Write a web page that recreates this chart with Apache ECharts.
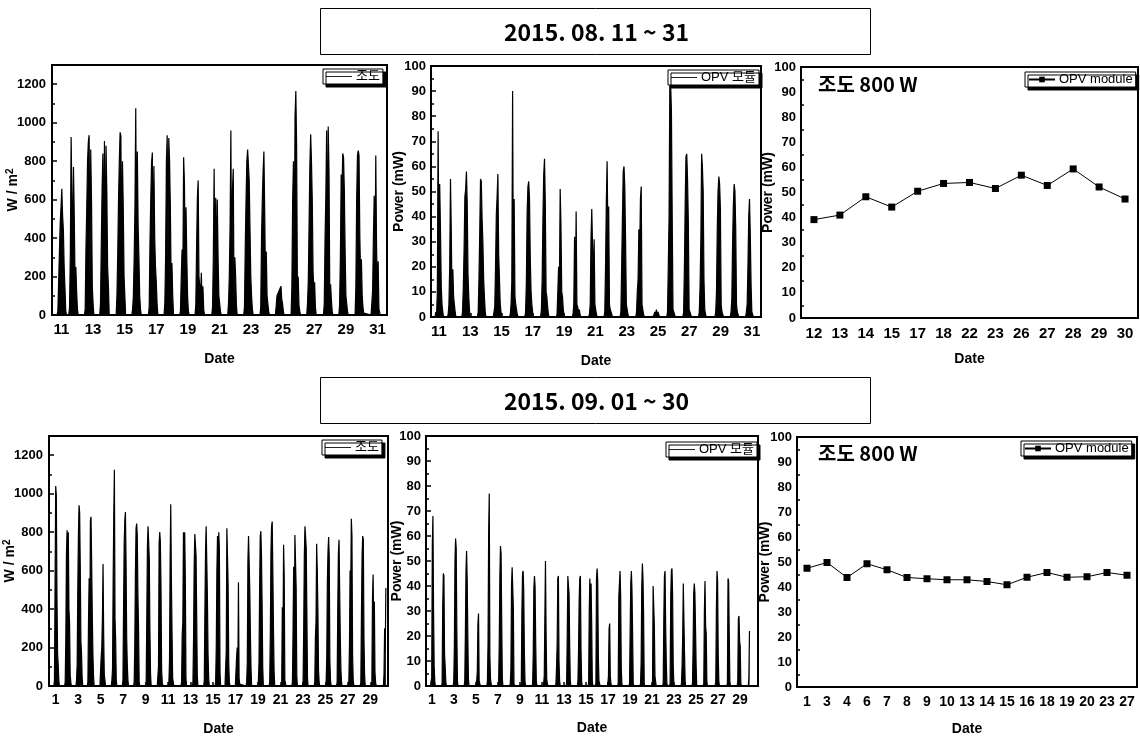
<!DOCTYPE html>
<html>
<head>
<meta charset="utf-8">
<script src="https://cdn.jsdelivr.net/npm/echarts@6/dist/echarts.min.js"></script>
<style>
html, body { margin: 0; padding: 0; background: #fff; }
#main { width: 1140px; height: 744px; }
</style>
</head>
<body>
<div id="main"></div>
<script>
// 2015.08 조도 (W/m2) : noon position of each day on the date axis + hourly profile
const augIrrPos = [11.02, 11.76, 12.75, 13.72, 14.76, 15.75, 16.80, 17.79, 18.78, 19.75, 20.81,
    21.82, 22.83, 23.86, 24.84, 25.83, 26.82, 27.88, 28.85, 29.88, 30.89];
const augIrrDays = [
    [0, 20, 30, 10, 480, 560, 656, 520, 440, 250, 140, 20, 0],
    [0, 40, 320, 925, 920, 320, 770, 510, 160, 250, 120, 30, 0],
    [0, 30, 350, 560, 800, 900, 935, 170, 860, 600, 150, 60, 0],
    [0, 60, 370, 660, 840, 300, 905, 150, 880, 640, 250, 150, 0],
    [0, 100, 320, 600, 800, 950, 930, 250, 800, 560, 200, 100, 0],
    [0, 30, 100, 300, 560, 1075, 330, 850, 470, 300, 100, 30, 0],
    [0, 40, 370, 600, 790, 845, 250, 775, 400, 250, 170, 60, 0],
    [0, 60, 300, 800, 935, 270, 920, 800, 560, 180, 270, 100, 0],
    [0, 20, 200, 340, 200, 820, 690, 300, 560, 300, 100, 20, 0],
    [0, 50, 350, 610, 700, 200, 150, 100, 220, 60, 150, 30, 0],
    [0, 40, 300, 760, 200, 610, 170, 600, 300, 100, 60, 20, 0],
    [0, 60, 200, 460, 960, 100, 650, 760, 100, 300, 200, 50, 0],
    [0, 40, 350, 600, 800, 860, 860, 700, 450, 200, 100, 30, 0],
    [0, 40, 400, 600, 750, 850, 550, 170, 330, 100, 60, 20, 0],
    [0, 10, 100, 110, 100, 130, 120, 150, 80, 60, 20, 0, 0],
    [0, 150, 600, 800, 200, 1030, 1165, 880, 150, 200, 50, 20, 0],
    [0, 60, 180, 480, 780, 940, 800, 600, 230, 130, 170, 40, 0],
    [0, 60, 400, 620, 960, 160, 980, 750, 100, 160, 80, 20, 0],
    [0, 50, 300, 730, 650, 840, 820, 650, 330, 100, 60, 20, 0],
    [0, 150, 600, 830, 855, 830, 410, 200, 290, 100, 40, 10, 0],
    [0, 60, 130, 400, 620, 280, 830, 350, 130, 280, 30, 10, 0]
];

// 2015.08 OPV 모듈 power (mW)
const augPowPos = [11.02, 11.81, 12.73, 13.73, 14.74, 15.78, 16.76, 17.77, 18.77, 19.79, 20.84,
    21.82, 22.85, 23.85, 24.92, 25.83, 26.86, 27.86, 28.91, 29.89, 30.87];
const augPowDays = [
    [0, 2, 1, 10, 74, 25, 53, 35, 12, 5, 2, 0],
    [0, 1, 5, 20, 55, 35, 6, 19, 8, 5, 2, 0],
    [0, 2, 12, 27, 48, 51, 58, 45, 17, 8, 2, 0],
    [0, 2, 15, 34, 55, 54, 39, 30, 15, 8, 2, 0],
    [0, 2, 4, 20, 41, 48, 57, 25, 15, 5, 2, 0],
    [0, 1, 5, 14, 90, 14, 47, 8, 5, 3, 1, 0],
    [0, 2, 14, 42, 52, 54, 47, 23, 10, 5, 2, 0],
    [0, 3, 15, 40, 57, 63, 45, 10, 8, 4, 1, 0],
    [0, 1, 10, 20, 10, 51, 37, 10, 8, 3, 1, 0],
    [0, 1, 5, 32, 5, 42, 5, 4, 2, 3, 1, 0],
    [0, 1, 5, 31, 43, 28, 14, 31, 5, 3, 1, 0],
    [0, 2, 20, 46, 62, 33, 44, 5, 3, 2, 1, 0],
    [0, 2, 20, 40, 58, 60, 52, 30, 5, 3, 1, 0],
    [0, 2, 10, 15, 35, 25, 47, 52, 5, 3, 1, 0],
    [0, 0, 1, 2, 1, 3, 1, 2, 1, 0, 0, 0],
    [0, 2, 20, 40, 95, 93, 82, 40, 3, 2, 1, 0],
    [0, 2, 20, 45, 64, 65, 55, 38, 3, 2, 1, 0],
    [0, 2, 12, 30, 65, 60, 50, 15, 3, 1, 0, 0],
    [0, 2, 10, 35, 50, 56, 53, 43, 5, 2, 1, 0],
    [0, 2, 7, 30, 45, 53, 50, 35, 5, 2, 1, 0],
    [0, 2, 5, 20, 40, 47, 33, 13, 2, 1, 0, 0]
];

// 2015.09 조도 (W/m2)
const sepIrrPos = [1.09, 2.10, 3.11, 4.12, 5.19, 6.20, 7.21, 8.21, 9.25, 10.29, 11.27, 12.40, 13.41,
    14.42, 15.43, 16.29, 17.21, 18.19, 19.23, 20.24, 21.28, 22.26, 23.21, 24.25, 25.26, 26.24,
    27.28, 28.32, 29.30, 30.27];
const sepIrrDays = [
    [0, 30, 40, 1040, 990, 470, 170, 110, 30, 0],
    [0, 20, 240, 680, 810, 70, 800, 400, 330, 60, 20, 0],
    [0, 30, 110, 500, 780, 940, 900, 610, 230, 170, 40, 0],
    [0, 20, 340, 560, 170, 860, 880, 650, 380, 170, 50, 0],
    [0, 10, 150, 200, 350, 635, 270, 60, 30, 0],
    [0, 30, 90, 540, 890, 1125, 350, 240, 30, 0],
    [0, 30, 400, 740, 860, 905, 640, 250, 110, 30, 0],
    [0, 20, 220, 590, 820, 845, 780, 470, 300, 20, 0],
    [0, 20, 360, 730, 830, 820, 660, 290, 60, 0],
    [0, 10, 100, 740, 800, 750, 520, 80, 20, 0],
    [0, 20, 130, 650, 945, 560, 290, 40, 20, 0],
    [0, 20, 270, 330, 800, 200, 800, 560, 40, 0],
    [0, 20, 250, 630, 790, 800, 680, 360, 50, 0],
    [0, 30, 400, 700, 830, 820, 460, 170, 40, 0],
    [0, 20, 200, 600, 780, 260, 800, 710, 70, 0],
    [0, 10, 180, 820, 830, 530, 120, 20, 0],
    [0, 10, 150, 200, 40, 540, 40, 10, 0],
    [0, 20, 120, 650, 780, 790, 500, 260, 90, 0],
    [0, 20, 120, 500, 780, 805, 680, 430, 100, 0],
    [0, 20, 270, 700, 830, 855, 600, 300, 80, 0],
    [0, 20, 410, 200, 735, 580, 30, 20, 0],
    [0, 20, 280, 620, 140, 785, 780, 510, 50, 0],
    [0, 20, 300, 680, 830, 840, 720, 400, 40, 0],
    [0, 20, 250, 340, 740, 600, 400, 80, 20, 0],
    [0, 20, 150, 550, 700, 775, 670, 130, 30, 0],
    [0, 20, 410, 690, 760, 510, 260, 90, 20, 0],
    [0, 20, 210, 600, 500, 870, 780, 160, 30, 0],
    [0, 20, 380, 680, 780, 760, 250, 60, 0],
    [0, 20, 450, 580, 300, 440, 70, 20, 0],
    [0, 60, 300, 180, 510]
];

// 2015.09 OPV 모듈 power (mW)
const sepPowPos = [1.09, 2.09, 3.15, 4.15, 5.18, 6.21, 7.23, 8.29, 9.29, 10.32, 11.32, 12.44, 13.41,
    14.44, 15.41, 16.07, 17.13, 18.10, 19.13, 20.13, 21.19, 22.19, 22.82, 23.85, 24.85, 25.85,
    26.94, 27.97, 28.94, 29.81];
const sepPowDays = [
    [0, 2, 3, 57, 68, 31, 8, 2, 0],
    [0, 1, 31, 45, 44, 13, 8, 2, 0],
    [0, 2, 16, 50, 59, 55, 23, 2, 0],
    [0, 2, 21, 46, 54, 42, 20, 3, 0],
    [0, 1, 2, 6, 25, 29, 2, 1, 0],
    [0, 2, 17, 61, 77, 12, 3, 1, 0],
    [0, 2, 17, 44, 56, 53, 27, 3, 0],
    [0, 1, 7, 40, 47.5, 47, 31, 1, 0],
    [0, 1, 30, 45, 46, 38, 14, 2, 0],
    [0, 1, 13, 39, 44, 40, 18, 2, 0],
    [0, 1, 4, 27, 50, 22, 3, 1, 0],
    [0, 1, 8, 17, 43, 44, 10, 2, 0],
    [0, 1, 20, 44, 40, 37, 16, 2, 0],
    [0, 2, 15, 35, 43, 44, 15, 2, 0],
    [0, 1, 30, 43, 30, 41, 25, 2, 0],
    [0, 1, 43, 47, 42, 12, 2, 1, 0],
    [0, 1, 4, 23, 25, 4, 1, 0],
    [0, 1, 36, 41, 46, 36, 7, 1, 0],
    [0, 1, 22, 41, 46, 38, 21, 1, 0],
    [0, 1, 10, 40, 49, 43, 28, 1, 0],
    [0, 1, 40, 40, 24, 4, 2, 0],
    [0, 1, 27, 44, 46, 24, 10, 1, 0],
    [0, 1, 36, 46, 47, 37, 9, 1, 0],
    [0, 1, 8, 20, 41, 26, 13, 2, 0],
    [0, 1, 15, 37, 41, 37, 23, 8, 0],
    [0, 1, 30, 42, 24, 21, 2, 0],
    [0, 2, 30, 46, 42, 13, 2, 0],
    [0, 1, 43, 42, 21, 2, 0],
    [0, 2, 27, 28, 18, 16, 1, 0],
    [0, 3, 22]
];

// 조도 800 W 기준 OPV module 출력
const augModDates = ['12', '13', '14', '15', '17', '18', '22', '23', '26', '27', '28', '29', '30'];
const augModPower = [39.2, 41.0, 48.3, 44.2, 50.5, 53.6, 54.0, 51.6, 56.9, 52.8, 59.4, 52.2, 47.4];
const sepModDates = ['1', '3', '4', '6', '7', '8', '9', '10', '13', '14', '15', '16', '18', '19', '20', '23', '27'];
const sepModPower = [47.5, 49.8, 43.8, 49.3, 46.9, 43.8, 43.3, 42.9, 42.9, 42.2, 40.9, 43.9, 45.8, 43.9, 44.1, 45.8, 44.7];

const augTicks = [11, 13, 15, 17, 19, 21, 23, 25, 27, 29, 31];
const sepTicks = [1, 3, 5, 7, 9, 11, 13, 15, 17, 19, 21, 23, 25, 27, 29];

const FONT = 'Liberation Sans, Arial, sans-serif';
const KFONT = 'Noto Sans CJK KR, sans-serif';
const MIXFONT = 'Liberation Sans, Noto Sans CJK KR, sans-serif';

// day profile -> [x, y] points, hourly samples around the day's noon position
const toPoints = (pos, days, step) => {
    const pts = [];
    for (let d = 0; d < days.length; d++) {
        const n = days[d].length;
        for (let i = 0; i < n; i++) {
            pts.push([pos[d] + (i - (n - 1) / 2) * step, days[d][i]]);
        }
    }
    return pts;
};

const grids = [
    { left: 52, top: 65, width: 335, height: 250 },
    { left: 431, top: 66, width: 330, height: 251 },
    { left: 801, top: 67, width: 337, height: 251 },
    { left: 49, top: 436, width: 339, height: 250 },
    { left: 426, top: 436, width: 332, height: 250 },
    { left: 797, top: 437, width: 340, height: 250 }
].map(g => Object.assign({ show: true, borderColor: '#000', borderWidth: 2, containLabel: false }, g));

const axisLine = { lineStyle: { color: '#000', width: 2 } };
const nameStyle = { fontFamily: FONT, fontWeight: 'bold', fontSize: 14, color: '#000' };

const dateAxis = (idx, min, max, ticks, fontSize, gap) => ({
    type: 'value', gridIndex: idx, min: min, max: max,
    name: 'Date', nameLocation: 'middle', nameGap: gap, nameTextStyle: nameStyle, nameMoveOverlap: false,
    axisLine: axisLine,
    axisTick: { inside: true, length: 4, customValues: ticks, lineStyle: { color: '#000', width: 1.5 } },
    axisLabel: { customValues: ticks, fontFamily: FONT, fontWeight: 'bold', fontSize: fontSize, color: '#000', margin: 7 },
    splitLine: { show: false }
});

const catAxis = (idx, cats, fontSize, gap) => ({
    type: 'category', gridIndex: idx, data: cats, boundaryGap: true,
    name: 'Date', nameLocation: 'middle', nameGap: gap, nameTextStyle: nameStyle, nameMoveOverlap: false,
    axisLine: axisLine,
    axisTick: { inside: true, length: 4, alignWithLabel: true, interval: 0, lineStyle: { color: '#000', width: 1.5 } },
    axisLabel: { interval: 0, fontFamily: FONT, fontWeight: 'bold', fontSize: fontSize, color: '#000', margin: 8 },
    splitLine: { show: false }
});

const irrAxis = (idx, gap) => ({
    type: 'value', gridIndex: idx, min: 0, max: 1300, interval: 200,
    name: 'W / m{sup|2}', nameLocation: 'middle', nameGap: gap, nameRotate: 90, nameMoveOverlap: false,
    nameTextStyle: Object.assign({
        rich: { sup: { fontFamily: FONT, fontWeight: 'bold', fontSize: 10, verticalAlign: 'top', padding: [0, 0, 7, 0], color: '#000' } }
    }, nameStyle),
    axisLine: axisLine,
    axisTick: { inside: true, length: 5, lineStyle: { color: '#000', width: 1.5 } },
    minorTick: { show: true, splitNumber: 2, length: 3, lineStyle: { color: '#000', width: 1.5 } },
    axisLabel: { fontFamily: FONT, fontWeight: 'bold', fontSize: 13, color: '#000', margin: 6,
        formatter: v => (v > 1200 ? '' : v) },
    splitLine: { show: false }, minorSplitLine: { show: false }
});

const powAxis = (idx, gap) => ({
    type: 'value', gridIndex: idx, min: 0, max: 100, interval: 10,
    name: 'Power (mW)', nameLocation: 'middle', nameGap: gap, nameRotate: 90, nameTextStyle: nameStyle,
    nameMoveOverlap: false,
    axisLine: axisLine,
    axisTick: { inside: true, length: 5, lineStyle: { color: '#000', width: 1.5 } },
    minorTick: { show: true, splitNumber: 2, length: 3, lineStyle: { color: '#000', width: 1.5 } },
    axisLabel: { fontFamily: FONT, fontWeight: 'bold', fontSize: 13, color: '#000', margin: 5 },
    splitLine: { show: false }, minorSplitLine: { show: false }
});

const spikes = (name, idx, data) => ({
    name: name, type: 'line', xAxisIndex: idx, yAxisIndex: idx, data: data,
    symbol: 'none', lineStyle: { color: '#000', width: 1.2 }, itemStyle: { color: '#000' },
    areaStyle: { color: '#000', opacity: 1 },
    animation: false
});

const module = (idx, data) => ({
    name: 'OPV module', type: 'line', xAxisIndex: idx, yAxisIndex: idx, data: data,
    symbol: 'rect', symbolSize: 7, showAllSymbol: true,
    lineStyle: { color: '#000', width: 1 }, itemStyle: { color: '#000' },
    animation: false
});

const LINE_ICON = 'path://M0,3H30V4H0Z';
const legend = (name, left, top, icon, iw) => ({
    data: [{ name: name, icon: icon }], left: left, top: top, orient: 'vertical',
    backgroundColor: '#fff', borderColor: '#000', borderWidth: 1,
    shadowColor: '#000', shadowBlur: 0, shadowOffsetX: 3, shadowOffsetY: 3,
    padding: [1, 3, 1, 3], itemWidth: iw, itemHeight: 7, itemGap: 0, selectedMode: false,
    textStyle: { fontFamily: MIXFONT, fontSize: 13, color: '#000', padding: [0, 0, 0, -1] }
});

const titleBox = (top, text) => ({
    type: 'group', left: 320, top: top,
    children: [
        { type: 'rect', shape: { x: 0, y: 0, width: 550, height: 46 }, style: { fill: '#fff', stroke: '#000', lineWidth: 1 } },
        { type: 'text', x: 276, y: 24, style: { text: text, fill: '#000', font: 'bold 23px ' + KFONT, align: 'center', verticalAlign: 'middle' } }
    ]
});

const label800 = (top) => ({
    type: 'text', left: 818, top: top,
    style: { text: '조도 800 W', fill: '#000', font: 'bold 20px ' + KFONT }
});

const chart = echarts.init(document.getElementById('main'));
chart.setOption({
    backgroundColor: '#fff',
    animation: false,
    grid: grids,
    xAxis: [
        dateAxis(0, 10.4, 31.6, augTicks, 15, 37),
        dateAxis(1, 10.49, 31.58, augTicks, 15, 37),
        catAxis(2, augModDates, 15, 34),
        dateAxis(3, 0.41, 30.57, sepTicks, 14, 36),
        dateAxis(4, 0.46, 30.64, sepTicks, 14, 35),
        catAxis(5, sepModDates, 14, 35)
    ],
    yAxis: [
        irrAxis(0, 30),
        powAxis(1, 25),
        powAxis(2, 26),
        irrAxis(3, 30),
        powAxis(4, 22),
        powAxis(5, 25)
    ],
    legend: [
        legend('조도', 323, 69, LINE_ICON, 26),
        legend('OPV 모듈', 668, 70, LINE_ICON, 26),
        legend('OPV module', 1025, 72, undefined, 26),
        legend('조도', 322, 440, LINE_ICON, 26),
        legend('OPV 모듈', 666, 442, LINE_ICON, 26),
        legend('OPV module', 1021, 441, undefined, 26)
    ],
    series: [
        spikes('조도', 0, toPoints(augIrrPos, augIrrDays, 1 / 20)),
        spikes('OPV 모듈', 1, toPoints(augPowPos, augPowDays, 1 / 20)),
        module(2, augModPower),
        spikes('조도', 3, toPoints(sepIrrPos, sepIrrDays, 1 / 18)),
        spikes('OPV 모듈', 4, toPoints(sepPowPos, sepPowDays, 1 / 18)),
        module(5, sepModPower)
    ],
    graphic: [
        titleBox(8, '2015. 08. 11 ~ 31'),
        titleBox(377, '2015. 09. 01 ~ 30'),
        label800(74),
        label800(443)
    ]
});
</script>
</body>
</html>
